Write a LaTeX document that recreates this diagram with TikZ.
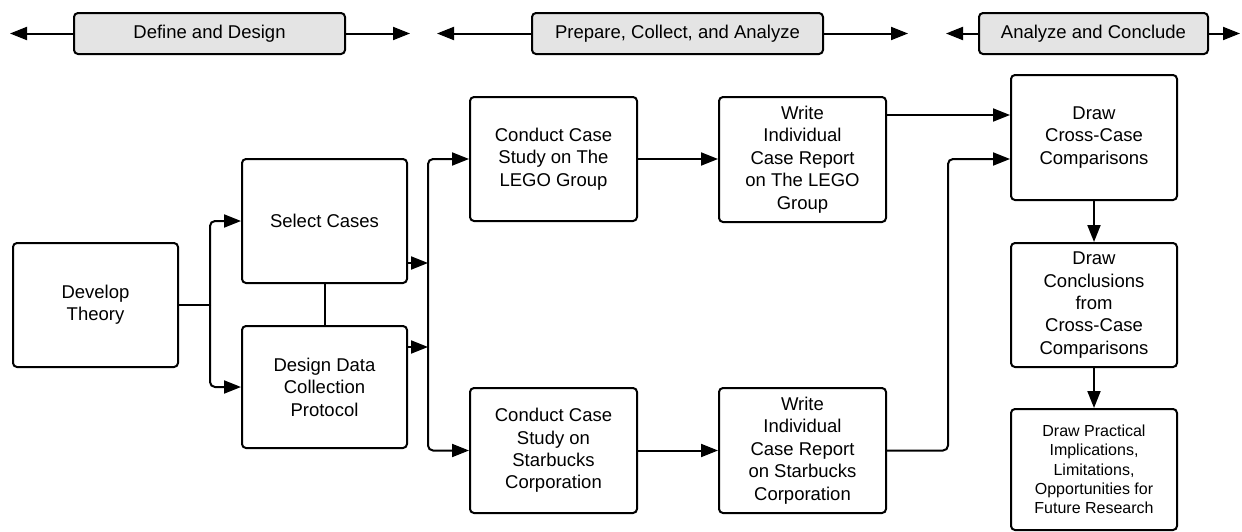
\documentclass[tikz,border=0pt]{standalone}
\usepackage{fontspec}
\setmainfont{Liberation Sans}
\usetikzlibrary{arrows.meta,calc}
\definecolor{hdrgray}{HTML}{E4E4E4}
\tikzset{
  box/.style={draw=black, line width=2pt, rounded corners=4pt, align=center,
    font=\fontsize{18.5}{22.4}\selectfont, inner sep=2pt},
  smallbox/.style={box, font=\fontsize{16}{19.3}\selectfont},
  hdr/.style={draw=black, line width=2pt, rounded corners=4pt, fill=hdrgray,
    font=\fontsize{18.5}{22.4}\selectfont, minimum height=41pt, inner sep=2pt},
  conn/.style={line width=2pt},
  arr/.style={line width=2pt, -{Triangle[length=17pt,width=13pt]}},
}
\begin{document}
\begin{tikzpicture}[x=1pt,y=-1pt]
\useasboundingbox (0,0) rectangle (1242,531);
% headers
\node[hdr, minimum width=271pt] (h1) at (209.5,33.5) {Define and Design};
\node[hdr, minimum width=291pt] (h2) at (677.5,33.5) {Prepare, Collect, and Analyze};
\node[hdr, minimum width=229pt] (h3) at (1093.5,33.5) {Analyze and Conclude};
\coordinate (h1l) at (10,33.5);
\coordinate (h1r) at (410,33.5);
\coordinate (h2l) at (437,33.5);
\coordinate (h2r) at (908,33.5);
\coordinate (h3l) at (946,33.5);
\coordinate (h3r) at (1240,33.5);
\draw[arr] (h1.west) -- (h1l);
\draw[arr] (h1.east) -- (h1r);
\draw[arr] (h2.west) -- (h2l);
\draw[arr] (h2.east) -- (h2r);
\draw[arr] (h3.west) -- (h3l);
\draw[arr] (h3.east) -- (h3r);
% main boxes
\node[box, minimum width=165pt, minimum height=124pt] (dev) at (95.5,305) {Develop\\Theory};
\node[box, minimum width=165pt, minimum height=124pt] (sel) at (324.5,221) {Select Cases};
\node[box, minimum width=165pt, minimum height=122pt] (des) at (324.5,387) {Design Data\\Collection\\Protocol};
\node[box, minimum width=167pt, minimum height=124pt] (cl) at (553.5,159) {Conduct Case\\Study on The\\LEGO Group};
\node[box, minimum width=167pt, minimum height=125pt] (cs) at (553.5,450.5) {Conduct Case\\Study on\\Starbucks\\Corporation};
\node[box, minimum width=167pt, minimum height=125pt] (wl) at (802.5,159.5) {Write\\Individual\\Case Report\\on The LEGO\\Group};
\node[box, minimum width=167pt, minimum height=125pt] (ws) at (802.5,450.5) {Write\\Individual\\Case Report\\on Starbucks\\Corporation};
\node[box, minimum width=166pt, minimum height=125pt] (cross) at (1094,137.5) {Draw\\Cross-Case\\Comparisons};
\node[box, minimum width=166pt, minimum height=124pt] (concl) at (1094,305) {Draw\\Conclusions\\from\\Cross-Case\\Comparisons};
\node[smallbox, minimum width=166pt, minimum height=121pt] (prac) at (1094,469.5) {Draw Practical\\Implications,\\Limitations,\\Opportunities for\\Future Research};
% bracket from Develop Theory
\coordinate (br) at (210,305);
\draw[conn] (dev.east) -- (br);
\draw[arr, rounded corners=5pt] (br) |- (sel.west);
\draw[arr, rounded corners=5pt] (br) |- (des.west);
% select - design link
\draw[conn] (sel.south) -- (des.north);
% bus
\coordinate (b1) at (428,263);
\coordinate (b2) at (428,347);
\coordinate (bm) at (428,305);
\draw[arr] (sel.east |- b1) -- (b1);
\draw[arr] (des.east |- b2) -- (b2);
\draw[arr, rounded corners=5pt] (bm) |- (cl.west);
\draw[arr, rounded corners=5pt] (bm) |- (cs.west);
% conduct -> write
\draw[arr] (cl.east) -- (wl.west |- cl.east);
\draw[arr] (cs.east) -- (ws.west |- cs.east);
% write -> cross
\coordinate (c1) at (0,115);
\coordinate (c2) at (948,159);
\draw[arr] (wl.east |- c1) -- (cross.west |- c1);
\draw[arr, rounded corners=5pt] (ws.east) -| (c2) -- (cross.west |- c2);
% cross -> conclusions -> practical
\draw[arr] (cross.south) -- (concl.north);
\draw[arr] (concl.south) -- (prac.north);
\end{tikzpicture}
\end{document}
